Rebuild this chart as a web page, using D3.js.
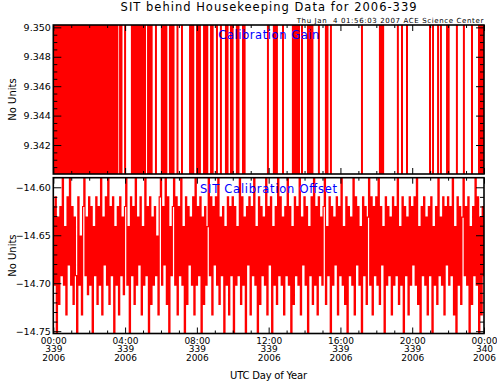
<!DOCTYPE html>
<html><head><meta charset="utf-8">
<script src="https://cdn.jsdelivr.net/npm/d3@7"></script>
<style>
html,body{margin:0;padding:0;background:#fff;}
svg{display:block;font-family:"DejaVu Sans",sans-serif;}
</style></head>
<body>
<svg id="c" width="497" height="382"></svg>
<script>
// ---------- data ----------
const titleText = "SIT behind Housekeeping Data for 2006-339";
const stampText = "Thu Jan  4 01:56:03 2007 ACE Science Center";
const gainLabel = "Calibration Gain";
const offsetLabel = "SIT Calibration Offset";
const yLabel = "No Units";
const xLabel = "UTC Day of Year";
const dayStart = "2006-12-05T00:00:00Z";   // 2006 day 339
const dayEnd = "2006-12-06T00:00:00Z";     // 2006 day 340

const gainTicks = [9.342, 9.344, 9.346, 9.348, 9.350];
const gainDomain = [9.34003, 9.35016];
const offsetTicks = [-14.75, -14.70, -14.65, -14.60];
const offsetDomain = [-14.7524, -14.5900];

// calibration gain: times (hours) where the value jumps, values hold until next time
const gainHours = [0.00,
 0.02,0.10,0.19,0.27,0.36,0.45,0.53,0.62,0.70,0.80,0.88,0.97,1.05,1.14,1.23,1.31,1.40,1.48,1.58,1.66,1.75,
 1.83,1.92,2.01,2.09,2.18,2.27,2.35,2.44,2.53,2.61,2.70,2.79,2.87,2.96,3.05,3.13,3.22,3.31,3.39,3.48,3.57,
 3.72,3.80,4.00,4.38,4.46,4.54,4.62,4.72,4.80,4.89,5.00,5.11,5.28,5.39,5.48,5.72,6.05,6.14,6.22,6.30,6.50,
 6.61,6.70,6.92,7.17,7.62,7.70,7.80,8.01,8.10,8.17,8.40,8.48,8.58,8.79,8.88,9.12,9.34,9.62,9.71,9.90,9.99,
 10.23,10.32,10.57,10.66,11.96,12.29,12.37,12.46,12.80,13.35,13.43,13.51,13.60,13.69,13.86,14.19,14.27,14.36,
 14.44,14.80,15.19,15.28,15.47,17.20,18.20,18.28,18.38,19.20,19.43,19.71,20.99,21.16,21.44,21.60,21.94,22.03,
 22.49,22.88,23.33,23.72,23.80,23.88,23.96,24.00];
const gainValues = [9.33,
 9.36,9.33,9.36,9.33,9.36,9.33,9.36,9.33,9.36,9.33,9.36,9.33,9.36,9.33,9.36,9.33,9.36,9.33,9.36,9.33,9.36,
 9.33,9.36,9.33,9.36,9.33,9.36,9.33,9.36,9.33,9.36,9.33,9.36,9.33,9.36,9.33,9.36,9.33,9.36,9.33,9.36,9.33,
 9.36,9.33,9.36,9.33,9.36,9.33,9.36,9.33,9.36,9.33,9.36,9.33,9.36,9.33,9.36,9.33,9.36,9.33,9.36,9.33,9.36,
 9.33,9.36,9.33,9.36,9.33,9.36,9.33,9.36,9.33,9.36,9.33,9.36,9.33,9.36,9.33,9.36,9.33,9.36,9.33,9.36,9.33,
 9.36,9.33,9.36,9.33,9.36,9.33,9.36,9.33,9.36,9.33,9.36,9.33,9.36,9.33,9.36,9.33,9.36,9.33,9.36,9.33,
 9.36,9.33,9.36,9.33,9.36,9.33,9.36,9.33,9.36,9.33,9.36,9.33,9.36,9.33,9.36,9.33,9.36,9.33,9.36,9.33,
 9.36,9.33,9.36,9.33,9.36,9.33,9.36,9.33,9.36,9.33];

// calibration offset: one sample every 4 minutes from 00:00
const offsetStepMinutes = 4;
const offsetValues = [
-14.620,-14.702,-14.610,-14.780,-14.631,-14.722,-14.620,-14.692,-14.570,-14.702,-14.641,-14.733,-14.610,-14.681,-14.570,
-14.702,-14.620,-14.722,-14.631,-14.692,-14.780,-14.610,-14.702,-14.651,-14.733,-14.620,-14.570,-14.692,-14.631,-14.712,
-14.610,-14.702,-14.620,-14.780,-14.641,-14.692,-14.610,-14.722,-14.620,-14.702,-14.570,-14.733,-14.631,-14.681,-14.610,
-14.702,-14.570,-14.722,-14.620,-14.692,-14.610,-14.780,-14.641,-14.702,-14.620,-14.733,-14.610,-14.692,-14.631,-14.712,
-14.620,-14.570,-14.702,-14.641,-14.780,-14.610,-14.692,-14.620,-14.722,-14.570,-14.702,-14.631,-14.681,-14.610,-14.733,
-14.641,-14.702,-14.570,-14.692,-14.620,-14.780,-14.610,-14.722,-14.631,-14.702,-14.620,-14.692,-14.651,-14.733,-14.610,
-14.570,-14.702,-14.620,-14.681,-14.570,-14.722,-14.610,-14.780,-14.641,-14.692,-14.620,-14.570,-14.702,-14.610,-14.733,
-14.620,-14.692,-14.570,-14.702,-14.641,-14.780,-14.610,-14.722,-14.620,-14.681,-14.631,-14.702,-14.610,-14.733,-14.570,
-14.702,-14.620,-14.692,-14.610,-14.780,-14.631,-14.722,-14.620,-14.702,-14.641,-14.570,-14.692,-14.610,-14.733,-14.620,
-14.681,-14.610,-14.702,-14.570,-14.722,-14.631,-14.692,-14.620,-14.780,-14.641,-14.702,-14.610,-14.733,-14.620,-14.692,
-14.610,-14.780,-14.620,-14.702,-14.641,-14.692,-14.570,-14.722,-14.610,-14.702,-14.631,-14.780,-14.620,-14.681,-14.610,
-14.733,-14.620,-14.692,-14.570,-14.702,-14.641,-14.780,-14.610,-14.722,-14.620,-14.692,-14.631,-14.702,-14.570,-14.733,
-14.620,-14.681,-14.610,-14.780,-14.641,-14.702,-14.620,-14.722,-14.570,-14.692,-14.610,-14.702,-14.631,-14.733,-14.620,
-14.692,-14.570,-14.702,-14.620,-14.780,-14.641,-14.722,-14.610,-14.692,-14.620,-14.702,-14.570,-14.733,-14.631,-14.681,
-14.610,-14.702,-14.620,-14.780,-14.641,-14.692,-14.610,-14.722,-14.570,-14.702,-14.620,-14.733,-14.610,-14.692,-14.631,
-14.702,-14.620,-14.570,-14.722,-14.641,-14.692,-14.610,-14.780,-14.620,-14.702,-14.631,-14.681,-14.610,-14.733,-14.620,
-14.692,-14.570,-14.702,-14.641,-14.722,-14.610,-14.780,-14.620,-14.692,-14.631,-14.702,-14.570,-14.733,-14.610,-14.681,
-14.620,-14.702,-14.641,-14.780,-14.610,-14.692,-14.620,-14.722,-14.631,-14.570,-14.702,-14.610,-14.733,-14.620,-14.692,
-14.610,-14.702,-14.570,-14.722,-14.620,-14.681,-14.641,-14.780,-14.610,-14.702,-14.620,-14.692,-14.631,-14.733,-14.610,
-14.702,-14.620,-14.692,-14.570,-14.722,-14.641,-14.702,-14.610,-14.780,-14.620,-14.692,-14.631,-14.733,-14.610,-14.702,
-14.620,-14.681,-14.610,-14.702,-14.570,-14.722,-14.641,-14.780,-14.620,-14.692,-14.610,-14.702,-14.631,-14.733,-14.620,
-14.692,-14.610,-14.780,-14.641,-14.702,-14.620,-14.722,-14.570,-14.692,-14.631,-14.702,-14.610,-14.733,-14.620,-14.681,
-14.610,-14.702,-14.620,-14.692,-14.570,-14.733,-14.641,-14.780,-14.610,-14.702,-14.620,-14.722,-14.631,-14.570,-14.692,
-14.620,-14.702,-14.610,-14.780,-14.641,-14.722,-14.620,-14.692,-14.570,-14.702,-14.610,-14.780,-14.631,-14.733,-14.620,
-14.692];

// ---------- layout ----------
const L = 53.3, R = 484;
const top1 = 25, bot1 = 174;
const top2 = 177.7, bot2 = 333.5;
const RED = "#ff0000", BLUE = "#0000ff";

const svg = d3.select("#c");
const t0 = new Date(dayStart), t1 = new Date(dayEnd);
const x = d3.scaleUtc().domain([t0, t1]).range([L, R]);
const hToDate = h => new Date(t0.getTime() + h * 3600000);
const yG = d3.scaleLinear().domain(gainDomain).range([bot1, top1]);
const yO = d3.scaleLinear().domain(offsetDomain).range([bot2, top2]);

const defs = svg.append("defs");
defs.append("clipPath").attr("id","cp1").append("rect").attr("x",L).attr("y",top1).attr("width",R-L).attr("height",bot1-top1);
defs.append("clipPath").attr("id","cp2").append("rect").attr("x",L).attr("y",top2).attr("width",R-L).attr("height",bot2-top2);

// gain line
const gainData = gainHours.map((h,i)=>({t:hToDate(h), v:gainValues[i]}));
svg.append("path").attr("clip-path","url(#cp1)")
  .attr("d", d3.line().x(d=>x(d.t)).y(d=>yG(d.v)).curve(d3.curveStepAfter)(gainData))
  .attr("fill","none").attr("stroke",RED).attr("stroke-width",2);

// offset line
const offsetData = offsetValues.map((v,i)=>({t:new Date(t0.getTime()+i*offsetStepMinutes*60000), v}));
svg.append("path").attr("clip-path","url(#cp2)")
  .attr("d", d3.line().x(d=>x(d.t)).y(d=>yO(d.v)).curve(d3.curveStep)(offsetData))
  .attr("fill","none").attr("stroke",RED).attr("stroke-width",1.2);

// axes helpers
function styleAxis(g){
  g.select(".domain").remove();
  g.selectAll(".tick line").attr("stroke","#000").attr("stroke-width",1);
  g.selectAll("text").attr("fill","#000").attr("font-size","9.5px").attr("font-family","DejaVu Sans, sans-serif");
}
const majorHours = [0,4,8,12,16,20,24].map(hToDate);
const minorHours = [1,2,3,5,6,7,9,10,11,13,14,15,17,18,19,21,22,23].map(hToDate);

function panel(ytop, ybot, yScale, majors, minors, fmt, xLabels){
  svg.append("g").attr("transform",`translate(${L},0)`)
    .call(d3.axisLeft(yScale).tickValues(majors).tickSize(-8).tickPadding(2.5).tickFormat(fmt)).call(styleAxis);
  svg.append("g").attr("transform",`translate(${L},0)`)
    .call(d3.axisLeft(yScale).tickValues(minors).tickSize(-4).tickFormat("")).call(styleAxis);
  svg.append("g").attr("transform",`translate(${R},0)`)
    .call(d3.axisRight(yScale).tickValues(majors).tickSize(-8).tickFormat("")).call(styleAxis);
  svg.append("g").attr("transform",`translate(${R},0)`)
    .call(d3.axisRight(yScale).tickValues(minors).tickSize(-4).tickFormat("")).call(styleAxis);
  svg.append("g").attr("transform",`translate(0,${ytop})`)
    .call(d3.axisTop(x).tickValues(majorHours).tickSize(-6).tickFormat("")).call(styleAxis);
  svg.append("g").attr("transform",`translate(0,${ytop})`)
    .call(d3.axisTop(x).tickValues(minorHours).tickSize(-3).tickFormat("")).call(styleAxis);
  const gb = svg.append("g").attr("transform",`translate(0,${ybot})`)
    .call(d3.axisBottom(x).tickValues(majorHours).tickSize(-6).tickPadding(10)
      .tickFormat(xLabels ? d3.utcFormat("%H:%M") : "")).call(styleAxis);
  svg.append("g").attr("transform",`translate(0,${ybot})`)
    .call(d3.axisBottom(x).tickValues(minorHours).tickSize(-3).tickFormat("")).call(styleAxis);
  if (xLabels){
    gb.selectAll(".tick text").each(function(d){
      const t = d3.select(this);
      t.text(null).attr("y",0).attr("dy",null).attr("font-size","9px");
      t.append("tspan").attr("x",0).attr("y",10).text(d3.utcFormat("%H:%M")(d));
      t.append("tspan").attr("x",0).attr("y",18.7).text(d3.utcFormat("%j")(d));
      t.append("tspan").attr("x",0).attr("y",27.4).text(d3.utcFormat("%Y")(d));
    });
  }
  svg.append("rect").attr("x",L).attr("y",ytop).attr("width",R-L).attr("height",ybot-ytop)
    .attr("fill","none").attr("stroke","#000").attr("stroke-width",1.6);
}

const gainMinors = [9.3405,9.341,9.3415,9.3425,9.343,9.3435,9.3445,9.345,9.3455,9.3465,9.347,9.3475,9.3485,9.349,9.3495];
const offsetMinors = [-14.74,-14.73,-14.72,-14.71,-14.69,-14.68,-14.67,-14.66,-14.64,-14.63,-14.62,-14.61];
panel(top1, bot1, yG, gainTicks, gainMinors, d3.format(".3f"), false);
panel(top2, bot2, yO, offsetTicks, offsetMinors, d3.format(".2f"), true);

// texts
svg.append("text").attr("x",268.6).attr("y",11).attr("text-anchor","middle")
  .attr("font-size","11.5px").attr("textLength",296).attr("lengthAdjust","spacing").text(titleText);
svg.append("text").attr("x",296.7).attr("y",22.7).attr("font-size","7px")
  .attr("textLength",186.6).attr("lengthAdjust","spacing").style("white-space","pre").text(stampText);
svg.append("text").attr("x",218.3).attr("y",39.3).attr("font-size","11.5px").attr("fill",BLUE)
  .attr("textLength",101).attr("lengthAdjust","spacing").text(gainLabel);
svg.append("text").attr("x",200).attr("y",193.2).attr("font-size","11.5px").attr("fill",BLUE)
  .attr("textLength",137).attr("lengthAdjust","spacing").text(offsetLabel);
[(top1+bot1)/2, (top2+bot2)/2].forEach(cy=>{
  svg.append("text").attr("transform",`translate(16.3,${cy}) rotate(-90)`).attr("text-anchor","middle")
    .attr("font-size","10px").text(yLabel);
});
svg.append("text").attr("x",268.6).attr("y",379.2).attr("text-anchor","middle")
  .attr("font-size","10px").attr("textLength",77).attr("lengthAdjust","spacing").text(xLabel);
</script>
</body></html>
